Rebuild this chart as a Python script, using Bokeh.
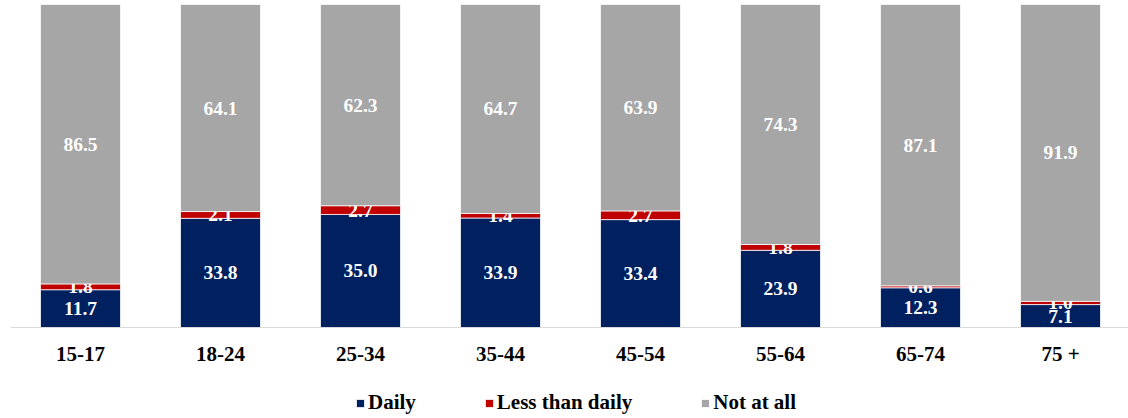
from bokeh.plotting import figure
from bokeh.models import ColumnDataSource, Range1d, FixedTicker, Legend, LegendItem
from bokeh.core.properties import value
from bokeh.embed import file_html
from bokeh.resources import INLINE

categories = ["15-17", "18-24", "25-34", "35-44", "45-54", "55-64", "65-74", "75 +"]
daily = [11.7, 33.8, 35.0, 33.9, 33.4, 23.9, 12.3, 7.1]
less_than_daily = [1.8, 2.1, 2.7, 1.4, 2.7, 1.8, 0.6, 1.0]
not_at_all = [86.5, 64.1, 62.3, 64.7, 63.9, 74.3, 87.1, 91.9]

series_names = ["Daily", "Less than daily", "Not at all"]
colors = ["#002060", "#C00000", "#A6A6A6"]

FONT = value("Liberation Serif")

xs = list(range(len(categories)))
b0 = [0.0] * len(xs)
t0 = [d for d in daily]
b1 = t0
t1 = [a + b for a, b in zip(t0, less_than_daily)]
b2 = t1
t2 = [a + b for a, b in zip(t1, not_at_all)]

p = figure(width=1128, height=418, output_backend="svg", toolbar_location=None,
           y_axis_location=None, min_border_left=10, min_border_right=0,
           min_border_top=4, min_border_bottom=0)
p.x_range = Range1d(-0.5, -0.5 + 1118 / 140)
p.y_range = Range1d(-91 / 3.23, 100)
p.grid.visible = False
p.outline_line_color = None
p.background_fill_color = "white"
p.border_fill_color = "white"

renderers = []
for vals, bot, top, col in [(daily, b0, t0, colors[0]),
                            (less_than_daily, b1, t1, colors[1]),
                            (not_at_all, b2, t2, colors[2])]:
    src = ColumnDataSource(dict(
        x=xs, bottom=bot, top=top,
        mid=[(a + b) / 2 for a, b in zip(bot, top)],
        lab=["%.1f" % v for v in vals]))
    r = p.vbar(x="x", bottom="bottom", top="top", width=80 / 140, source=src,
               fill_color=col, line_color="white", line_width=0.75)
    renderers.append(r)
    p.text(x="x", y="mid", text="lab", source=src, text_font=FONT,
           text_font_style="bold", text_font_size="19.5px", text_color="white",
           text_align="center", text_baseline="middle")

ax = p.xaxis[0]
ax.fixed_location = 0
ax.ticker = FixedTicker(ticks=xs)
ax.major_label_overrides = {i: c for i, c in enumerate(categories)}
ax.major_tick_line_color = None
ax.minor_tick_line_color = None
ax.major_tick_out = 0
ax.major_tick_in = 0
ax.axis_line_color = "#D9D9D9"
ax.axis_line_width = 1
ax.major_label_standoff = 14
ax.major_label_text_font = "Liberation Serif"
ax.major_label_text_font_style = "bold"
ax.major_label_text_font_size = "21px"
ax.major_label_text_color = "black"

legend = Legend(items=[LegendItem(label=n, renderers=[r]) for n, r in zip(series_names, renderers)],
                orientation="horizontal", location=(345, 3),
                border_line_color=None, background_fill_alpha=0,
                padding=0, margin=0, spacing=68,
                glyph_width=10, glyph_height=10, label_standoff=3,
                label_height=20,
                label_text_font="Liberation Serif", label_text_font_style="bold",
                label_text_font_size="21px", label_text_color="black")
p.add_layout(legend, "center")

open("out.html", "w").write(file_html(p, INLINE))
